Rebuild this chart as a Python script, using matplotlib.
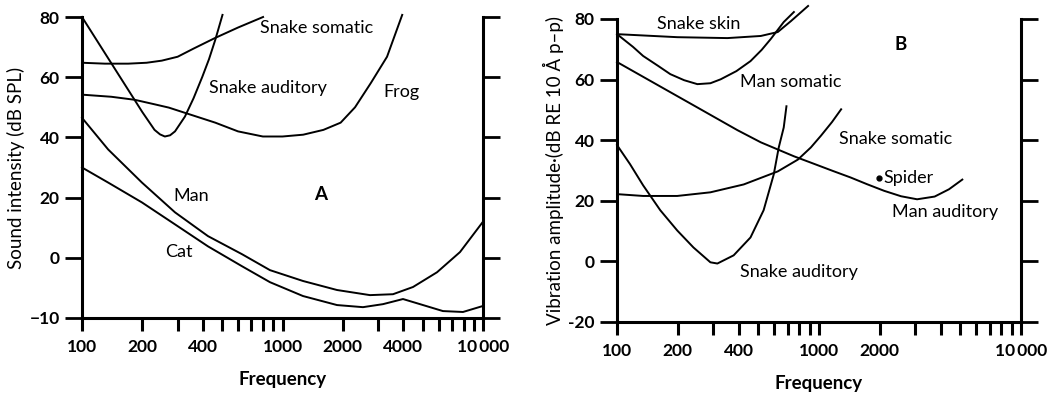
import matplotlib
matplotlib.use("Agg")
import matplotlib.pyplot as plt
from matplotlib.ticker import FixedLocator, NullLocator

plt.rcParams['font.family'] = ['Lato', 'DejaVu Sans']

# ---------------- Panel A data (Hz, dB SPL in plot units) ----------------
a_snake_som_f = [100, 130, 170, 210, 250, 300, 360, 460, 600, 800]
a_snake_som_y = [64.8, 64.5, 64.5, 64.8, 65.5, 66.8, 69.5, 73.0, 76.5, 80.0]

a_snake_aud_f = [100, 150, 200, 230, 245, 259, 275, 291, 326, 360, 398, 430, 462, 502]
a_snake_aud_y = [80.0, 61.5, 48.4, 42.5, 41.0, 40.3, 40.7, 42.0, 46.9, 53.0, 60.1, 66.0, 72.4, 80.7]

a_frog_f = [100, 140, 183, 230, 271, 350, 462, 600, 798, 1000, 1268, 1600, 1950, 2300, 2760, 3322, 3954]
a_frog_y = [54.2, 53.5, 52.5, 51.0, 49.9, 47.5, 44.9, 42.0, 40.3, 40.3, 40.9, 42.5, 44.9, 50.0, 58.1, 66.8, 80.7]

a_man_f = [100, 135, 199, 291, 425, 628, 866, 1265, 1870, 2731, 3557, 4477, 5899, 7678, 10000]
a_man_y = [46.5, 36.0, 25.0, 15.1, 7.2, 1.2, -4.1, -7.7, -10.7, -12.4, -12.1, -9.7, -4.8, 1.9, 12.0]

a_cat_f = [100, 135, 199, 291, 425, 628, 866, 1265, 1870, 2520, 3170, 3990, 5021, 6312, 7947, 10000]
a_cat_y = [30.0, 25.0, 18.4, 11.1, 3.8, -2.8, -8.1, -12.7, -15.7, -16.4, -15.4, -13.7, -15.7, -17.7, -18.0, -16.0]

a_yticks = [-20, 0, 20, 40, 60, 80]
a_ytick_labels = ['\u221210', '0', '20', '40', '60', '80']
a_xtick_labels = {100: '100', 200: '200', 400: '400', 1000: '1000',
                  2000: '2000', 4000: '4000', 10000: '10\u2009000'}

# ---------------- Panel B data ----------------
b_skin_f = [100, 198.7, 352, 515, 625, 726, 883]
b_skin_y = [75.0, 74.0, 73.7, 74.4, 75.7, 79.3, 84.3]

b_man_som_f = [100, 120, 134.7, 160, 183.6, 215, 250, 290, 326, 390, 458, 520, 577, 669, 751]
b_man_som_y = [75.0, 70.8, 67.8, 64.5, 61.8, 59.8, 58.5, 58.8, 60.1, 62.8, 66.1, 69.8, 73.4, 79.0, 82.3]

b_man_aud_f = [100, 160, 250, 395, 515, 751, 911, 1177, 1433, 1726, 2100, 2548, 3060, 3738, 4400, 5122]
b_man_aud_y = [65.8, 58.1, 50.8, 43.3, 39.3, 34.7, 32.6, 29.8, 27.7, 25.5, 23.3, 21.5, 20.5, 21.4, 23.8, 27.0]

b_snake_som_f = [100, 134.7, 198.7, 290, 424, 625, 786, 911, 1023, 1160, 1287]
b_snake_som_y = [22.2, 21.6, 21.6, 22.8, 25.4, 29.7, 33.6, 37.6, 41.5, 46.0, 50.2]

b_snake_aud_f = [100, 116, 134.7, 163.7, 198.7, 239, 290, 314, 378, 458, 532, 597, 632, 669, 690]
b_snake_aud_y = [38.4, 32.1, 25.1, 16.9, 10.2, 4.6, -0.3, -0.7, 2.0, 7.9, 16.9, 28.7, 37.6, 44.2, 51.2]

spider_f = [1980]
spider_y = [27.5]

b_yticks = [-20, 0, 20, 40, 60, 80]
b_ytick_labels = ['-20', '0', '20', '40', '60', '80']
b_xtick_labels = {100: '100', 200: '200', 400: '400', 1000: '1000',
                  2000: '2000', 10000: '10\u2009000'}

all_ticks = list(range(100, 1000, 100)) + list(range(1000, 10001, 1000))

W, H = 1061, 398
fig = plt.figure(figsize=(W / 100, H / 100), dpi=100)
axA = fig.add_axes([82 / W, 1 - 318 / H, (483 - 82) / W, (318 - 17) / H])
axB = fig.add_axes([617 / W, 1 - 322 / H, (1021 - 617) / W, (322 - 19) / H])

lw = 1.4
FS = 13
txt = dict(fontsize=FS, color='black')


def style(ax, yticks, ylabels, xlabels, ylabel):
    ax.set_xscale('log')
    ax.set_xlim(100, 10000)
    ax.set_ylim(-20, 80)
    ax.spines['top'].set_visible(False)
    for s in ['left', 'bottom', 'right']:
        ax.spines[s].set_linewidth(2.2)
    ax.xaxis.set_major_locator(FixedLocator(all_ticks))
    ax.xaxis.set_minor_locator(NullLocator())
    ax.set_xticklabels([xlabels.get(t, '') for t in all_ticks])
    ax.set_yticks(yticks)
    ax.set_yticklabels(ylabels)
    ax.tick_params(axis='x', direction='out', length=9, width=2.2, pad=6,
                   labelsize=12.5)
    ax.tick_params(axis='y', direction='out', length=12, width=2.0,
                   labelsize=12.5, right=True, left=True, pad=4)
    for lab in ax.get_xticklabels() + ax.get_yticklabels():
        lab.set_fontweight('bold')
    ax.set_xlabel('Frequency', fontsize=13.5, fontweight='bold', labelpad=12)
    ax.set_ylabel(ylabel, fontsize=13.5, labelpad=3)


style(axA, a_yticks, a_ytick_labels, a_xtick_labels, 'Sound intensity (dB SPL)')
style(axB, b_yticks, b_ytick_labels, b_xtick_labels,
      'Vibration amplitude\u00b7(dB RE 10 \u00c5 p\u2013p)')

for f, y in [(a_snake_som_f, a_snake_som_y), (a_snake_aud_f, a_snake_aud_y),
             (a_frog_f, a_frog_y), (a_man_f, a_man_y), (a_cat_f, a_cat_y)]:
    axA.plot(f, y, color='black', lw=lw, clip_on=False, solid_joinstyle='round')

axA.text(770, 76.4, 'Snake somatic', ha='left', va='center', **txt)
axA.text(431, 56.5, 'Snake auditory', ha='left', va='center', **txt)
axA.text(3203, 55.2, 'Frog', ha='left', va='center', **txt)
axA.text(287, 20.4, 'Man', ha='left', va='center', **txt)
axA.text(1545, 21, 'A', ha='center', va='center', fontsize=13.5, fontweight='bold')
axA.text(259, 1.9, 'Cat', ha='left', va='center', **txt)

for f, y in [(b_skin_f, b_skin_y), (b_man_som_f, b_man_som_y),
             (b_man_aud_f, b_man_aud_y), (b_snake_som_f, b_snake_som_y),
             (b_snake_aud_f, b_snake_aud_y)]:
    axB.plot(f, y, color='black', lw=lw, clip_on=False, solid_joinstyle='round')
axB.plot(spider_f, spider_y, 'o', color='black', ms=3.5)

axB.text(157, 78.3, 'Snake skin', ha='left', va='center', **txt)
axB.text(2548, 71.7, 'B', ha='center', va='center', fontsize=13.5, fontweight='bold')
axB.text(405, 59.1, 'Man somatic', ha='left', va='center', **txt)
axB.text(1263, 40.3, 'Snake somatic', ha='left', va='center', **txt)
axB.text(2080, 27.5, 'Spider', ha='left', va='center', **txt)
axB.text(2305, 16.4, 'Man auditory', ha='left', va='center', **txt)
axB.text(405, -3.4, 'Snake auditory', ha='left', va='center', **txt)

fig.savefig('out.png', dpi=100)
